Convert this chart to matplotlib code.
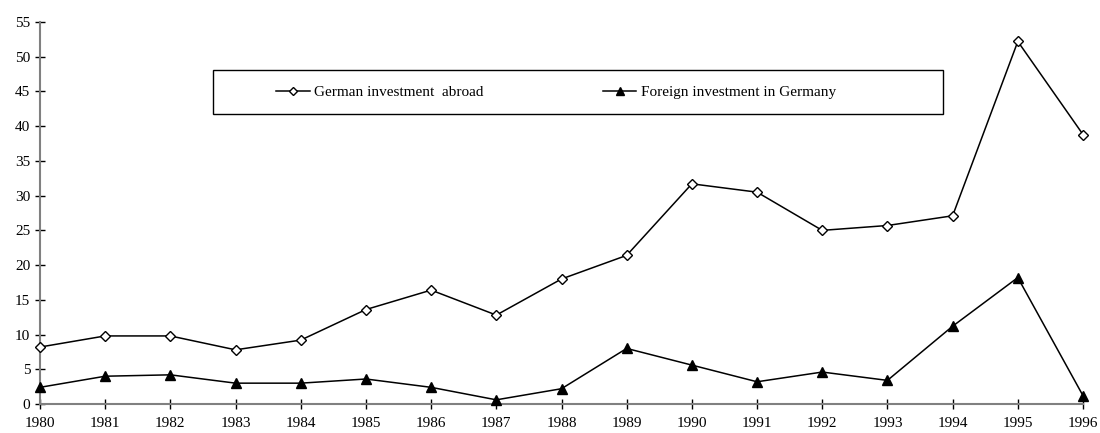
import matplotlib
matplotlib.use("Agg")
import matplotlib.pyplot as plt
from matplotlib.patches import Rectangle

plt.rcParams['font.family'] = ['Liberation Serif', 'DejaVu Serif']

years = list(range(1980, 1997))
german_abroad = [8.2, 9.8, 9.8, 7.8, 9.2, 13.6, 16.4, 12.8, 18.0, 21.4,
                 31.7, 30.5, 25.0, 25.7, 27.1, 52.2, 38.8]
foreign_in_germany = [2.4, 4.0, 4.2, 3.0, 3.0, 3.6, 2.4, 0.6, 2.2, 8.0,
                      5.6, 3.2, 4.6, 3.4, 11.2, 18.2, 1.2]

fig = plt.figure(figsize=(11, 4.33), dpi=100)
ax = fig.add_axes([40/1100, 29/433, 1043/1100, 382/433])

ax.plot(years, german_abroad, c='black', lw=1.1, marker='D', ms=5,
        mfc='white', mec='black', mew=1.0, label='German investment  abroad',
        clip_on=False, zorder=3)
ax.plot(years, foreign_in_germany, c='black', lw=1.1, marker='^', ms=7,
        mfc='black', mec='black', label='Foreign investment in Germany',
        clip_on=False, zorder=3)

ax.set_xlim(1980, 1996)
ax.set_ylim(0, 55)
ax.set_xticks(years)
ax.set_yticks(range(0, 56, 5))
ax.tick_params(direction='inout', length=7, width=1, colors='black',
               labelsize=11)
ax.tick_params(axis='x', pad=6)
for s in ['top', 'right']:
    ax.spines[s].set_visible(False)
for s in ['left', 'bottom']:
    ax.spines[s].set_color('#808080')
    ax.spines[s].set_linewidth(1.5)

# legend box
ax.add_patch(Rectangle((0.166, 0.759), 0.70, 0.115, transform=ax.transAxes,
                       fill=False, ec='black', lw=1.0, clip_on=False))
leg = ax.legend(loc='center left', bbox_to_anchor=(0.2263, 0.8165),
                ncol=2, frameon=False, fontsize=11, handlelength=2.2,
                handletextpad=0.3, columnspacing=7.8, borderpad=0,
                borderaxespad=0, markerscale=0.9)

fig.savefig('out.png', dpi=100)
